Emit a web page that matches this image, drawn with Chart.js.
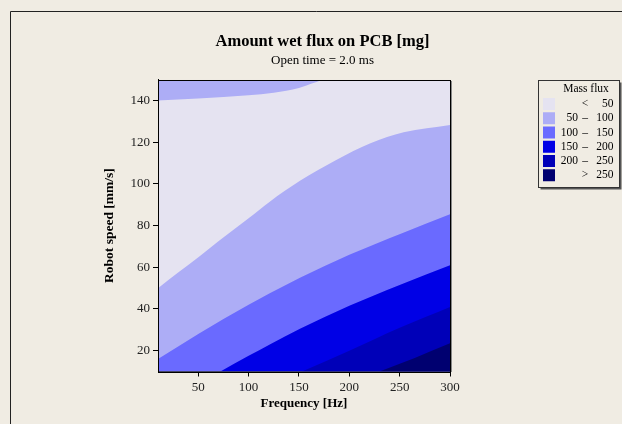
<!DOCTYPE html>
<html><head><meta charset="utf-8">
<script src="https://cdn.jsdelivr.net/npm/chart.js@4/dist/chart.umd.min.js"></script>
<style>html,body{margin:0;padding:0;background:#f0ece3;overflow:hidden}</style>
</head><body>
<canvas id="c" width="622" height="424"></canvas>
<script>
// ---- data ----
const xTicks = [50, 100, 150, 200, 250, 300];
const yTicks = [20, 40, 60, 80, 100, 120, 140];

// contour lines: frequency [Hz] and robot speed [mm/s]
const c50TopHz      = [10, 50, 100, 125, 150, 165, 175, 300];
const c50TopSpeed   = [140, 141, 142.5, 143.7, 146, 148.5, 150, 150];
const c50Hz         = [10, 30, 52, 70, 100, 121, 151, 187, 221, 254, 300];
const c50Speed      = [50, 57.5, 65.5, 72.5, 83.5, 91.5, 101.5, 111.5, 119.5, 124.8, 128.3];
const c100Hz        = [10, 50, 100, 121, 151, 200, 253, 300];
const c100Speed     = [16, 28, 42, 47.5, 55, 66, 76.5, 85.5];
const c150Hz        = [72, 100, 121, 151, 200, 250, 300];
const c150Speed     = [10, 17.5, 23, 30.5, 41.5, 51.5, 61];
const c200Hz        = [153, 200, 250, 300];
const c200Speed     = [10, 20, 31, 41];
const c250Hz        = [230, 265, 300];
const c250Speed     = [10, 16.5, 23.5];
const topEdgeHz     = [10, 300];
const topEdgeSpeed  = [150, 150];

const legendTitle = 'Mass flux';
const legendLow   = ['', '50', '100', '150', '200', ''];
const legendMid   = ['<', '–', '–', '–', '–', '>'];
const legendHigh  = ['50', '100', '150', '200', '250', '250'];
const bandColors  = ['#e5e3f1', '#adadf6', '#6a6aff', '#0000e6', '#0000b8', '#000070'];

const pts = (xs, ys) => xs.map((x, i) => ({x, y: ys[i]}));
const band = (xs, ys, color) => ({
  data: pts(xs, ys), fill: 'start', backgroundColor: color, borderWidth: 0,
  pointRadius: 0, cubicInterpolationMode: 'monotone'
});

const serif = 'Liberation Serif';

const pagePlugin = {
  id: 'page',
  beforeDraw(chart) {
    const ctx = chart.ctx;
    ctx.save();
    ctx.fillStyle = '#f0ece3';
    ctx.fillRect(0, 0, chart.width, chart.height);
    ctx.strokeStyle = '#222';
    ctx.lineWidth = 1;
    ctx.beginPath();
    ctx.moveTo(10.5, 424); ctx.lineTo(10.5, 11.5); ctx.lineTo(622, 11.5);
    ctx.stroke();
    ctx.restore();
  },
  afterDatasetsDraw(chart) {
    const {ctx, chartArea: a} = chart;
    ctx.save();
    ctx.strokeStyle = '#000';
    ctx.lineWidth = 1;
    ctx.strokeRect(Math.round(a.left) + 0.5, Math.round(a.top) + 0.5,
                   Math.round(a.right - a.left) , Math.round(a.bottom - a.top));
    ctx.strokeStyle = '#888';
    ctx.beginPath();
    ctx.moveTo(Math.round(a.right) + 1.5, Math.round(a.top) + 1);
    ctx.lineTo(Math.round(a.right) + 1.5, Math.round(a.bottom));
    ctx.stroke();
    ctx.restore();
  },
  afterDraw(chart) {
    const ctx = chart.ctx;
    ctx.save();
    // legend box
    const bx = 538.5, by = 80.5, bw = 81, bh = 107;
    ctx.fillStyle = '#555';
    ctx.fillRect(bx + 2, by + 2, bw, bh);
    ctx.fillStyle = '#f0ece3';
    ctx.fillRect(bx, by, bw, bh);
    ctx.strokeStyle = '#333';
    ctx.lineWidth = 1;
    ctx.strokeRect(bx, by, bw, bh);
    ctx.fillStyle = '#000';
    ctx.font = '11.5px "' + serif + '"';
    ctx.textBaseline = 'middle';
    ctx.textAlign = 'center';
    ctx.fillText(legendTitle, 586, 88.5);
    for (let i = 0; i < bandColors.length; i++) {
      const cy = 104 + i * 14.25;
      ctx.fillStyle = bandColors[i];
      ctx.fillRect(543, cy - 6, 12, 12);
      ctx.fillStyle = '#000';
      ctx.textAlign = 'right';
      ctx.fillText(legendLow[i], 578, cy);
      ctx.textAlign = 'center';
      ctx.fillText(legendMid[i], 585, cy);
      ctx.textAlign = 'right';
      ctx.fillText(legendHigh[i], 613.5, cy);
    }
    ctx.restore();
  }
};

new Chart(document.getElementById('c'), {
  type: 'line',
  data: {
    datasets: [
      band(c250Hz, c250Speed, bandColors[5]),
      band(c200Hz, c200Speed, bandColors[4]),
      band(c150Hz, c150Speed, bandColors[3]),
      band(c100Hz, c100Speed, bandColors[2]),
      band(c50Hz, c50Speed, bandColors[1]),
      band(c50TopHz, c50TopSpeed, bandColors[0]),
      band(topEdgeHz, topEdgeSpeed, bandColors[1])
    ]
  },
  options: {
    responsive: false,
    animation: false,
    events: [],
    layout: {padding: {left: 23, right: 0, top: 0, bottom: 0}},
    plugins: {
      legend: {display: false},
      tooltip: {enabled: false},
      title: {
        display: true, text: 'Amount wet flux on PCB [mg]', color: '#000',
        font: {family: serif, size: 16.5, weight: 'bold'}, padding: {top: 31.8, bottom: 0}
      },
      subtitle: {
        display: true, text: 'Open time = 2.0 ms', color: '#000',
        font: {family: serif, size: 13}, padding: {top: 1.3, bottom: 11.2}
      }
    },
    scales: {
      x: {
        type: 'linear', min: 10, max: 300,
        afterBuildTicks: s => { s.ticks = xTicks.map(v => ({value: v})); },
        afterFit: s => { s.height = 52.5; },
        grid: {drawOnChartArea: false, drawTicks: true, tickLength: 5, color: '#000'},
        border: {display: true, color: '#000', width: 1},
        ticks: {color: '#222', font: {family: serif, size: 13}, padding: 3, maxRotation: 0},
        title: {display: true, text: 'Frequency [Hz]', color: '#000',
                font: {family: serif, size: 13, weight: 'bold'}, padding: {top: 0, bottom: 12.5}}
      },
      y: {
        type: 'linear', min: 10, max: 150,
        afterBuildTicks: s => { s.ticks = yTicks.map(v => ({value: v})); },
        afterFit: s => { s.width = 135; },
        grid: {drawOnChartArea: false, drawTicks: true, tickLength: 5, color: '#000'},
        border: {display: true, color: '#000', width: 1},
        ticks: {color: '#222', font: {family: serif, size: 13}, padding: 3},
        title: {display: true, text: 'Robot speed [mm/s]', color: '#000',
                font: {family: serif, size: 13.5, weight: 'bold'}, padding: {top: 78.5, bottom: 0}}
      },
      y2: {
        position: 'right', display: true,
        grid: {display: false}, ticks: {display: false}, border: {display: false},
        afterFit: s => { s.width = 172; }
      }
    }
  },
  plugins: [pagePlugin]
});
</script>
</body></html>
